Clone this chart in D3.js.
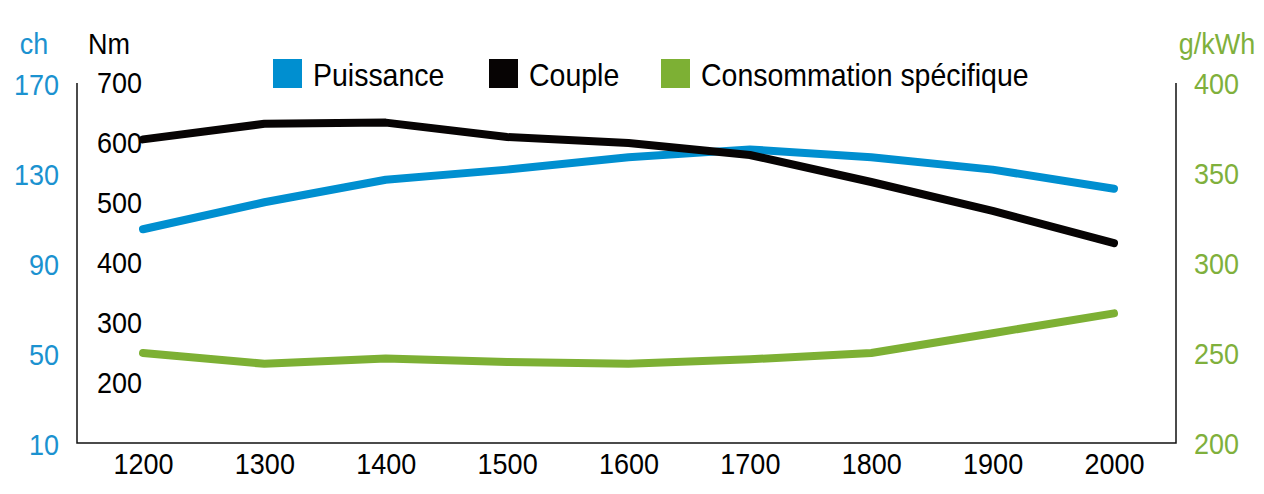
<!DOCTYPE html>
<html>
<head>
<meta charset="utf-8">
<script src="https://cdn.jsdelivr.net/npm/d3@7"></script>
<style>
  html, body { margin: 0; padding: 0; background: #fff; }
  svg { display: block; font-family: "Liberation Sans", Arial, sans-serif; }
</style>
</head>
<body>
<svg id="chart" width="1264" height="494"></svg>
<script>
// ---- data ----
const categories = ["1200", "1300", "1400", "1500", "1600", "1700", "1800", "1900", "2000"];
const puissance = [105, 117, 127, 131.5, 137, 140.5, 137, 131.5, 123];       // ch
const couple = [606, 632, 634, 610, 600, 580, 535, 487, 433];                // Nm
const consommation = [250, 244, 247, 245, 244, 246.5, 250, 261, 272];        // g/kWh
const chTicks = [10, 50, 90, 130, 170];
const nmTicks = [200, 300, 400, 500, 600, 700];
const gTicks = [200, 250, 300, 350, 400];
const legendLabels = ["Puissance", "Couple", "Consommation spécifique"];
const unitLabels = ["ch", "Nm", "g/kWh"];

// ---- styles ----
const BLUE = "#008fd0", BLACK = "#070404", GREEN = "#7db034";
const BLUE_TXT = "#1b92d0", GREEN_TXT = "#7fb03c";
const FS = "30px", SX = 0.9;

const svg = d3.select("#chart");
const plot = { left: 77, right: 1176, top: 83, bottom: 443 };

const x = d3.scalePoint().domain(categories).range([143, 1114]).padding(0);
const yCh = d3.scaleLinear().domain([10, 170]).range([plot.bottom, plot.top]);
const yNm = d3.scaleLinear().domain([100, 700]).range([plot.bottom, plot.top]);
const yG = d3.scaleLinear().domain([200, 400]).range([plot.bottom, plot.top]);

// frame lines (left, bottom, right)
svg.append("path")
  .attr("d", `M${plot.left},${plot.top}V${plot.bottom}H${plot.right}V${plot.top}`)
  .attr("fill", "none").attr("stroke", "#111").attr("stroke-width", 1.5);

function styleTicks(sel, color) {
  sel.select(".domain").remove();
  sel.selectAll("text").attr("fill", color).style("font-size", FS)
    .attr("font-family", "Liberation Sans, Arial, sans-serif")
    .attr("transform", `scale(${SX},1)`);
}

// ch axis (blue, outermost left)
const axCh = svg.append("g").attr("transform", `translate(59,2)`)
  .call(d3.axisLeft(yCh).tickValues(chTicks).tickSize(0).tickPadding(0));
styleTicks(axCh, BLUE_TXT);

// Nm axis (black, inner left)
const axNm = svg.append("g").attr("transform", `translate(142,0)`)
  .call(d3.axisLeft(yNm).tickValues(nmTicks).tickSize(0).tickPadding(0));
styleTicks(axNm, "#000");

// g/kWh axis (green, right)
const axG = svg.append("g").attr("transform", `translate(1194,1)`)
  .call(d3.axisRight(yG).tickValues(gTicks).tickSize(0).tickPadding(0));
styleTicks(axG, GREEN_TXT);

// x axis
const axX = svg.append("g").attr("transform", `translate(0,${plot.bottom})`)
  .call(d3.axisBottom(x).tickSize(0).tickPadding(10));
styleTicks(axX, "#000");

// unit labels
const units = [
  { t: unitLabels[0], x: 34, color: BLUE_TXT },
  { t: unitLabels[1], x: 109, color: "#000" },
  { t: unitLabels[2], x: 1217, color: GREEN_TXT }
];
units.forEach(u => {
  svg.append("text").text(u.t)
    .attr("transform", `translate(${u.x},54) scale(${SX},1)`)
    .attr("text-anchor", "middle").attr("fill", u.color).style("font-size", FS);
});

// lines
const series = [
  { values: puissance, y: yCh, color: BLUE },
  { values: couple, y: yNm, color: BLACK },
  { values: consommation, y: yG, color: GREEN }
];
series.forEach(s => {
  const line = d3.line().x((d, i) => x(categories[i])).y(d => s.y(d));
  svg.append("path").datum(s.values).attr("d", line)
    .attr("fill", "none").attr("stroke", s.color).attr("stroke-width", 8)
    .attr("stroke-linecap", "round").attr("stroke-linejoin", "round");
});

// legend
const legendX = [273, 489, 661];
const legendColors = [BLUE, BLACK, GREEN];
legendLabels.forEach((lab, i) => {
  const g = svg.append("g").attr("transform", `translate(${legendX[i]},59)`);
  g.append("rect").attr("width", 29).attr("height", 29).attr("fill", legendColors[i]);
  g.append("text").text(lab).attr("transform", `translate(40,27) scale(0.89,1)`)
    .attr("fill", "#000").style("font-size", "32px");
});
</script>
</body>
</html>
